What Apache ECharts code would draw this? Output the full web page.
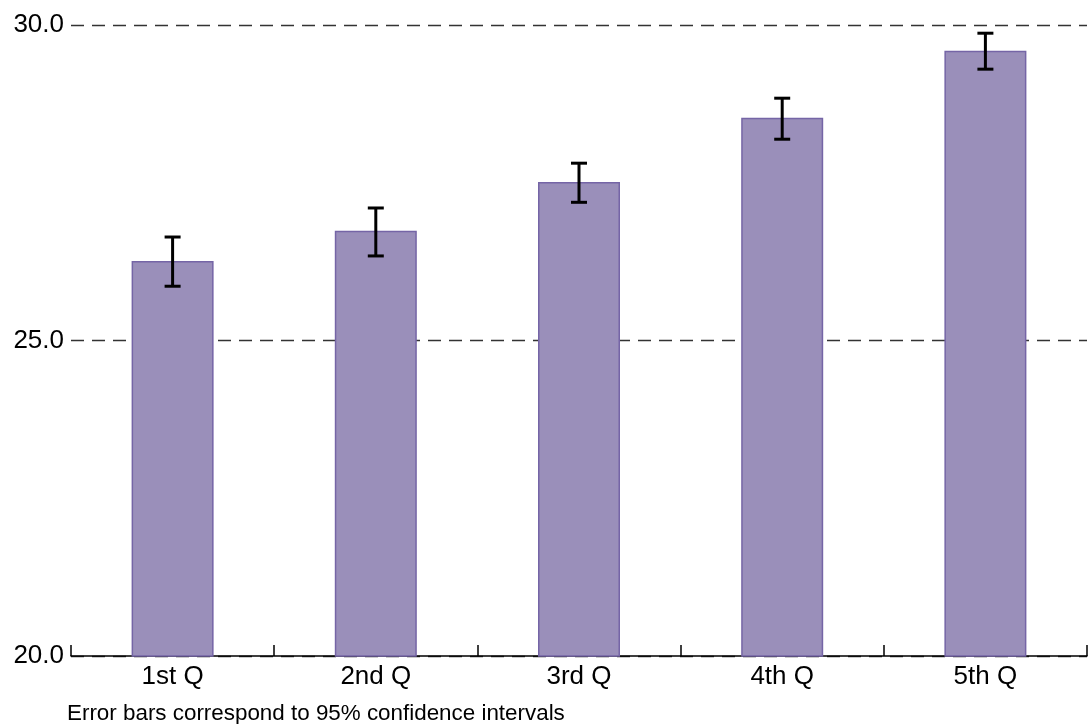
<!DOCTYPE html>
<html>
<head>
<meta charset="utf-8">
<script src="https://cdn.jsdelivr.net/npm/echarts@6/dist/echarts.min.js"></script>
<style>
  html, body { margin: 0; padding: 0; background: #fff; }
  #main { width: 1090px; height: 724px; }
</style>
</head>
<body>
<div id="main"></div>
<script>
// data
var categories = ["1st Q", "2nd Q", "3rd Q", "4th Q", "5th Q"];
var means = [26.26, 26.74, 27.51, 28.53, 29.59];
var lower = [25.86, 26.34, 27.19, 28.19, 29.30];
var upper = [26.64, 27.10, 27.81, 28.84, 29.87];
var yTicks = [20, 25, 30];

var errData = categories.map(function (c, i) { return [i, lower[i], upper[i]]; });

var chart = echarts.init(document.getElementById("main"));
chart.setOption({
  animation: false,
  textStyle: { fontFamily: "Liberation Sans, Arial, sans-serif" },
  grid: { left: 71, right: 3, top: 25, bottom: 68, containLabel: false },
  xAxis: {
    type: "category",
    data: categories,
    axisLine: { show: true, lineStyle: { color: "#000", width: 1.5 } },
    axisTick: { show: true, inside: true, length: 11, lineStyle: { color: "#000", width: 1.5 } },
    axisLabel: { color: "#000", fontSize: 26, margin: 8 }
  },
  yAxis: {
    type: "value",
    min: yTicks[0],
    max: yTicks[yTicks.length - 1],
    interval: 5,
    axisLine: { show: false },
    axisTick: { show: false },
    axisLabel: {
      color: "#000", fontSize: 26, margin: 7,
      formatter: function (v) { return v.toFixed(1); }
    },
    splitLine: {
      show: true,
      lineStyle: { color: "#333", width: 1.3, type: [13, 8] }
    }
  },
  series: [{
    type: "bar",
    data: means,
    barWidth: 82,
    itemStyle: { color: "#9a8fba", borderColor: "#7565a6", borderWidth: 1.5 }
  }, {
    type: "custom",
    data: errData,
    z: 10,
    renderItem: function (params, api) {
      var lo = api.coord([api.value(0), api.value(1)]);
      var hi = api.coord([api.value(0), api.value(2)]);
      var hw = 8;
      var st = { stroke: "#000", lineWidth: 3 };
      return {
        type: "group",
        children: [
          { type: "line", shape: { x1: lo[0], y1: lo[1], x2: hi[0], y2: hi[1] }, style: st },
          { type: "line", shape: { x1: lo[0] - hw, y1: lo[1], x2: lo[0] + hw, y2: lo[1] }, style: st },
          { type: "line", shape: { x1: hi[0] - hw, y1: hi[1], x2: hi[0] + hw, y2: hi[1] }, style: st }
        ]
      };
    }
  }],
  graphic: [{
    type: "text",
    left: 67,
    top: 703,
    style: { text: "Error bars correspond to 95% confidence intervals", fill: "#000", fontSize: 22.4, fontFamily: "Liberation Sans, Arial, sans-serif" }
  }]
});
</script>
</body>
</html>
